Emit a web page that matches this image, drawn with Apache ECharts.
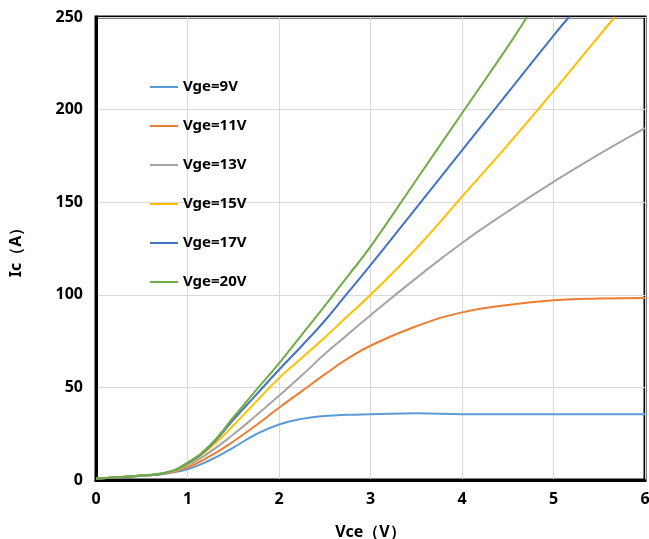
<!DOCTYPE html>
<html>
<head>
<meta charset="utf-8">
<script src="https://cdn.jsdelivr.net/npm/echarts@6/dist/echarts.min.js"></script>
<style>html,body{margin:0;padding:0;background:#fff}#c{width:649px;height:539px}</style>
</head>
<body>
<div id="c"></div>
<script>
var seriesNames = ['Vge=9V','Vge=11V','Vge=13V','Vge=15V','Vge=17V','Vge=20V'];
var seriesColors = ['#5B9BD5','#ED7D31','#A5A5A5','#FFC000','#4472C4','#70AD47'];

var vceFull = [0, 0.25, 0.5, 0.75, 1, 1.25, 1.5, 1.75, 2, 2.25, 2.5, 2.75, 3, 3.5, 4, 4.5, 5, 5.5, 6];
var ic9   = [0.8, 1.5, 2.3, 3.4, 5.8, 10.8, 17.5, 24.7, 30, 33, 34.5, 35.2, 35.5, 36, 35.5, 35.5, 35.5, 35.5, 35.5];
var ic11  = [0.8, 1.5, 2.3, 3.5, 6.8, 13, 20.8, 29.6, 39, 48, 57, 65.5, 72.5, 83, 90.5, 94.5, 97, 98, 98.3];
var ic13  = [0.8, 1.5, 2.3, 3.6, 7.8, 15.3, 24.6, 34.8, 45.5, 56.5, 68, 78.5, 89, 109, 128, 145, 161, 176, 190];

var vce15 = [0, 0.25, 0.5, 0.75, 1, 1.25, 1.5, 1.75, 2, 2.25, 2.5, 2.75, 3, 3.5, 4, 4.5, 5, 5.5, 5.67];
var ic15  = [0.8, 1.5, 2.4, 3.7, 8.5, 17.5, 29.4, 42.3, 55, 66, 77, 88.5, 100, 125, 153, 181, 210, 240, 250];
var vce17 = [0, 0.25, 0.5, 0.75, 1, 1.25, 1.5, 1.75, 2, 2.25, 2.5, 2.75, 3, 3.5, 4, 4.5, 5, 5.17];
var ic17  = [0.8, 1.5, 2.4, 3.8, 9, 18.5, 32.5, 46, 59.5, 72.5, 86, 101, 116, 147, 178, 209, 240, 250];
var vce20 = [0, 0.25, 0.5, 0.75, 1, 1.25, 1.5, 1.75, 2, 2.25, 2.5, 2.75, 3, 3.5, 4, 4.5, 4.71];
var ic20  = [0.8, 1.5, 2.5, 3.9, 9.4, 19, 33.8, 48.5, 63, 78.5, 94, 110, 126, 162, 198, 234, 250];

var xTicks = [0, 1, 2, 3, 4, 5, 6];
var yTicks = [0, 50, 100, 150, 200, 250];

var allX = [vceFull, vceFull, vceFull, vce15, vce17, vce20];
var allY = [ic9, ic11, ic13, ic15, ic17, ic20];

function pairs(xs, ys){ return xs.map(function(x,i){ return [x, ys[i]]; }); }

var series = seriesNames.map(function(n, k){
  return {
    name: n, type: 'line', smooth: 0.5, showSymbol: false, symbol: 'none',
    data: pairs(allX[k], allY[k]),
    lineStyle: { color: seriesColors[k], width: 2 },
    itemStyle: { color: seriesColors[k] }
  };
});

var font = '"Noto Sans", "Liberation Sans", sans-serif';
var chart = echarts.init(document.getElementById('c'), null, {renderer:'canvas'});
chart.setOption({
  animation: false,
  backgroundColor: '#fff',
  grid: { left: 96, right: 4, top: 17, bottom: 59, containLabel: false, outerBoundsMode: 'none',
          show: true, borderColor: '#000', borderWidth: 3, backgroundColor: 'transparent' },
  legend: {
    orient: 'vertical', left: 145, top: 74,
    icon: 'rect', itemWidth: 28, itemHeight: 2, itemGap: 23,
    data: seriesNames,
    textStyle: { fontFamily: font, fontWeight: 'bold', fontSize: 15, color: '#000', lineHeight: 16 }
  },
  xAxis: {
    type: 'value', min: xTicks[0], max: xTicks[xTicks.length-1], interval: 1,
    name: 'Vce（V）', nameLocation: 'middle', nameGap: 44,
    nameTextStyle: { fontFamily: font, fontWeight: 'bold', fontSize: 16, color: '#000' },
    axisLine: { show: true, lineStyle: { color: '#000', width: 3 } },
    axisTick: { show: false },
    axisLabel: { fontFamily: font, fontWeight: 'bold', fontSize: 16, color: '#000', margin: 11 },
    splitLine: { show: true, lineStyle: { color: '#D9D9D9', width: 1 } }
  },
  yAxis: {
    type: 'value', min: yTicks[0], max: yTicks[yTicks.length-1], interval: 50,
    name: 'Ic（A）', nameLocation: 'middle', nameGap: 72, nameRotate: 90,
    nameTextStyle: { fontFamily: font, fontWeight: 'bold', fontSize: 16, color: '#000' },
    axisLine: { show: true, lineStyle: { color: '#000', width: 3 } },
    axisTick: { show: false },
    axisLabel: { fontFamily: font, fontWeight: 'bold', fontSize: 16, color: '#000', margin: 13 },
    splitLine: { show: true, lineStyle: { color: '#D9D9D9', width: 1 } }
  },
  series: series
});
</script>
</body>
</html>
